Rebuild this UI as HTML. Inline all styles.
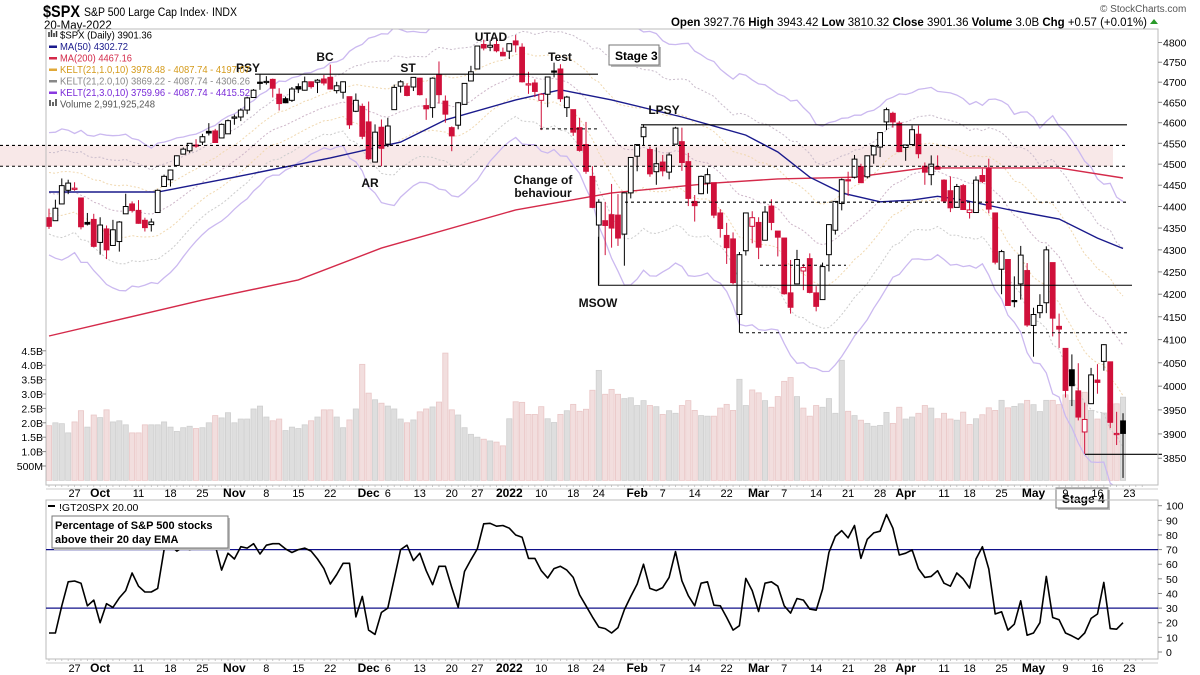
<!DOCTYPE html>
<html><head><meta charset="utf-8"><title>$SPX S&amp;P 500 Large Cap Index</title>
<style>
html,body{margin:0;padding:0;background:#fff;}
svg{display:block;font-family:"Liberation Sans",sans-serif;}
</style></head>
<body>
<svg id="chart" xmlns="http://www.w3.org/2000/svg" width="1200" height="675" viewBox="0 0 1200 675">
  <rect x="0" y="0" width="1200" height="675" fill="#fff"/>
  <g>
    <text x="43" y="17" font-size="17" font-weight="bold" fill="#000" textLength="37" lengthAdjust="spacingAndGlyphs">$SPX</text>
    <text x="84" y="16" font-size="11.5" fill="#000" textLength="153" lengthAdjust="spacingAndGlyphs">S&amp;P 500 Large Cap Index· INDX</text>
    <text x="44" y="29" font-size="11.5" fill="#000">20-May-2022</text>
    <text x="1100" y="12" font-size="10" fill="#555">© StockCharts.com</text>
    <text x="671" y="26" font-size="11.5" fill="#000" textLength="476" lengthAdjust="spacingAndGlyphs"><tspan font-weight="bold">Open</tspan> 3927.76  <tspan font-weight="bold">High</tspan> 3943.42  <tspan font-weight="bold">Low</tspan> 3810.32  <tspan font-weight="bold">Close</tspan> 3901.36  <tspan font-weight="bold">Volume</tspan> 3.0B  <tspan font-weight="bold">Chg</tspan> +0.57 (+0.01%)</text>
    <path d="M1150 24 L1154 19 L1158 24 Z" fill="#2a9a2a"/>
  </g>
  <defs>
    <clipPath id="mainClip"><rect x="46" y="29" width="1112" height="456"/></clipPath>
    <clipPath id="lowClip"><rect x="46" y="500" width="1112" height="159"/></clipPath>
  </defs>
  <g id="main" clip-path="url(#mainClip)"></g>
  <g id="over"></g>
  <g id="low"></g>
  <g id="axes"></g>
</svg>
<script>
// ---------- data ----------
const dates = ["Sep21","Sep22","Sep23","Sep24","Sep27","Sep28","Sep29","Sep30","Oct1","Oct4","Oct5","Oct6","Oct7","Oct8","Oct11","Oct12","Oct13","Oct14","Oct15","Oct18","Oct19","Oct20","Oct21","Oct22","Oct25","Oct26","Oct27","Oct28","Oct29","Nov1","Nov2","Nov3","Nov4","Nov5","Nov8","Nov9","Nov10","Nov11","Nov12","Nov15","Nov16","Nov17","Nov18","Nov19","Nov22","Nov23","Nov24","Nov26","Nov29","Nov30","Dec1","Dec2","Dec3","Dec6","Dec7","Dec8","Dec9","Dec10","Dec13","Dec14","Dec15","Dec16","Dec17","Dec20","Dec21","Dec22","Dec23","Dec27","Dec28","Dec29","Dec30","Dec31","Jan3","Jan4","Jan5","Jan6","Jan7","Jan10","Jan11","Jan12","Jan13","Jan14","Jan18","Jan19","Jan20","Jan21","Jan24","Jan25","Jan26","Jan27","Jan28","Jan31","Feb1","Feb2","Feb3","Feb4","Feb7","Feb8","Feb9","Feb10","Feb11","Feb14","Feb15","Feb16","Feb17","Feb18","Feb22","Feb23","Feb24","Feb25","Feb28","Mar1","Mar2","Mar3","Mar4","Mar7","Mar8","Mar9","Mar10","Mar11","Mar14","Mar15","Mar16","Mar17","Mar18","Mar21","Mar22","Mar23","Mar24","Mar25","Mar28","Mar29","Mar30","Mar31","Apr1","Apr4","Apr5","Apr6","Apr7","Apr8","Apr11","Apr12","Apr13","Apr14","Apr18","Apr19","Apr20","Apr21","Apr22","Apr25","Apr26","Apr27","Apr28","Apr29","May2","May3","May4","May5","May6","May9","May10","May11","May12","May13","May16","May17","May18","May19","May20"];
const opens = [4374,4367,4406,4438,4442,4420,4363,4370,4317,4348,4310,4319,4383,4406,4391,4368,4358,4386,4447,4463,4497,4524,4532,4546,4553,4579,4580,4563,4573,4611,4614,4631,4662,4700,4702,4707,4670,4659,4655,4689,4680,4701,4700,4708,4712,4679,4675,4664,4628,4640,4602,4505,4589,4548,4632,4690,4690,4688,4710,4642,4637,4719,4653,4588,4594,4645,4703,4733,4795,4788,4795,4775,4778,4804,4788,4693,4698,4655,4670,4728,4733,4637,4632,4588,4547,4471,4357,4367,4381,4380,4336,4432,4519,4566,4535,4482,4505,4481,4548,4554,4506,4412,4430,4455,4456,4385,4333,4325,4155,4298,4354,4363,4322,4401,4343,4327,4203,4223,4252,4280,4203,4188,4289,4345,4407,4463,4469,4494,4470,4522,4541,4602,4623,4599,4540,4547,4572,4495,4475,4494,4462,4437,4398,4449,4386,4386,4473,4490,4385,4256,4278,4186,4223,4253,4131,4159,4181,4271,4129,4081,4035,3990,3904,3963,4013,4053,4052,3900,3927];
const highs = [4395,4416,4466,4463,4457,4420,4385,4383,4375,4356,4369,4366,4430,4412,4415,4374,4372,4440,4475,4487,4521,4540,4550,4560,4573,4599,4585,4598,4608,4620,4635,4664,4683,4719,4715,4709,4685,4664,4688,4697,4714,4702,4708,4718,4744,4701,4702,4664,4672,4647,4652,4596,4608,4612,4694,4705,4697,4713,4711,4660,4712,4752,4667,4591,4651,4698,4741,4791,4807,4804,4808,4787,4796,4819,4798,4726,4707,4673,4714,4749,4745,4666,4632,4612,4602,4495,4417,4411,4453,4429,4432,4517,4547,4596,4542,4540,4522,4528,4590,4588,4527,4427,4473,4490,4456,4394,4362,4340,4295,4385,4389,4375,4401,4417,4343,4327,4277,4300,4268,4292,4218,4271,4358,4412,4466,4482,4522,4501,4521,4546,4576,4637,4627,4604,4547,4593,4593,4504,4521,4521,4464,4471,4453,4453,4410,4471,4489,4513,4386,4300,4278,4240,4309,4270,4170,4200,4308,4271,4157,4081,4068,4049,3965,4039,4047,4090,4052,3946,3943];
const lows = [4348,4367,4406,4429,4437,4347,4356,4306,4289,4279,4310,4296,4383,4386,4360,4342,4342,4386,4447,4447,4497,4524,4527,4539,4546,4569,4551,4563,4573,4595,4604,4621,4662,4681,4694,4662,4630,4648,4651,4673,4679,4684,4673,4692,4682,4672,4659,4585,4626,4560,4510,4505,4495,4541,4632,4674,4665,4678,4667,4607,4612,4647,4600,4531,4584,4645,4703,4733,4780,4778,4775,4765,4758,4775,4699,4671,4663,4582,4638,4712,4651,4614,4568,4530,4477,4396,4223,4288,4305,4309,4264,4419,4483,4545,4470,4451,4471,4464,4547,4484,4401,4365,4429,4430,4373,4328,4268,4222,4115,4287,4315,4279,4322,4345,4285,4199,4157,4223,4209,4202,4162,4188,4251,4335,4391,4425,4466,4456,4466,4501,4517,4582,4588,4530,4508,4547,4514,4451,4450,4487,4408,4387,4398,4392,4372,4386,4455,4384,4267,4200,4175,4171,4188,4128,4063,4147,4158,4107,4082,3976,3958,3928,3859,3963,3984,4033,3912,3877,3810];
const closes = [4354,4396,4449,4455,4443,4353,4359,4308,4357,4300,4346,4364,4400,4391,4361,4351,4364,4438,4471,4486,4520,4536,4550,4545,4566,4575,4552,4596,4605,4614,4631,4661,4680,4698,4702,4685,4647,4649,4683,4683,4701,4689,4705,4698,4683,4691,4701,4595,4655,4567,4513,4577,4538,4592,4687,4701,4667,4712,4669,4634,4710,4669,4621,4568,4649,4697,4726,4791,4786,4793,4779,4766,4797,4794,4701,4696,4677,4670,4713,4726,4659,4663,4577,4533,4483,4398,4410,4356,4350,4327,4432,4516,4547,4589,4477,4501,4484,4522,4587,4504,4419,4402,4471,4475,4380,4349,4305,4226,4289,4385,4374,4306,4387,4363,4329,4201,4171,4278,4260,4204,4173,4262,4358,4412,4463,4461,4512,4456,4520,4543,4576,4632,4602,4530,4546,4583,4525,4481,4500,4488,4413,4397,4447,4393,4392,4462,4459,4394,4272,4296,4175,4184,4288,4132,4155,4175,4300,4147,4123,3991,4001,3935,3930,4024,4008,4089,3924,3901,3901];
const volumesB = [1.9,2.0,1.97,1.65,2.03,2.42,1.85,2.27,2.18,2.45,2.03,2.07,1.93,1.65,1.65,1.93,1.93,1.93,2.03,1.85,1.7,1.83,1.88,1.8,1.83,2.0,2.25,2.17,2.35,2.0,2.13,2.13,2.48,2.58,2.2,2.07,2.13,1.73,1.85,1.8,1.93,2.07,2.2,2.45,2.45,2.2,1.83,2.1,2.48,4.03,3.03,2.8,2.68,2.58,2.48,2.13,2.0,2.1,2.38,2.48,2.55,2.72,4.42,2.45,2.27,1.83,1.6,1.5,1.43,1.37,1.33,
1.2,2.14,2.73,2.71,2.29,2.29,2.56,2.14,2.01,2.29,2.42,2.64,2.40,2.47,3.13,3.82,2.99,3.16,2.99,2.84,2.87,2.6,2.77,2.6,2.56,2.29,2.42,2.33,2.6,2.77,2.43,2.25,2.23,2.23,2.51,2.64,2.43,3.51,2.6,3.14,3.04,2.77,2.54,2.91,3.44,3.57,2.91,2.51,2.23,2.6,2.54,2.84,2.33,4.17,2.4,2.25,2.09,1.98,1.88,1.91,2.36,1.98,2.54,2.13,2.2,2.33,2.6,2.51,2.14,2.33,2.13,2.09,
2.37,1.94,2.14,2.28,2.52,2.43,2.78,2.52,2.57,2.66,2.78,2.63,2.39,2.78,2.78,2.63,2.97,2.78,3.06,3.06,2.43,2.13,2.34,2.66,2.66,2.89];
const pctAbove20 = [13,13,31.6,48,48.5,47,31.6,35.5,20,33,30.5,37,42,54,45,41,41,43.5,70,73,69,72,70,71,72,73,73,56,67.5,63.6,72,71,74,67,73,74,74,70.5,68,70,71,69,63.6,57,46.5,53,60.6,60.6,24,38,15,12,27,30,50,70,73,62.5,67.5,55.6,46,58.6,58.6,44,30.5,55,63,70.5,87.6,88,86,86.5,84.6,80,78.5,64,64,55.6,50.6,57,58.6,56,51,39,31.6,24,17,16,
13,16.7,29,38,46.5,60,43.5,42,44,51,68.6,48.7,38.5,31.6,47,48,32,31.6,23.6,15,18,50.3,42,27.7,47,48,45,31.6,26.6,36.6,35.5,29.3,28.6,43,68,79,83,78,86.5,64,77,81.4,82.6,94,84.6,66.3,67.5,69.8,57,51,51.7,55.6,47,45,54,50,43.7,63.6,72,56.7,26,27.5,15,19,35,11.5,13,20,51.7,23.6,22,13,11,8.7,13,23,26,47.6,16,15.6,20];
const ma50Bars = [0,17,29,44,55,62,73,80,88,99,109,114,119,124,130,135,139,143,150,158,164,168];
const ma50Vals = [4434,4434,4469,4515,4553,4607,4656,4681,4656,4614,4570,4529,4469,4432,4411,4415,4424,4415,4393,4371,4327,4303];
const ma200Bars = [0,24,39,52,73,88,104,114,126,137,148,158,168];
const ma200Vals = [4108,4187,4232,4304,4392,4432,4455,4465,4469,4491,4491,4491,4467];
const kelt0 = [4440, 48]; // starting EMA, ATR read from left edge
const priceTicks = [4800,4750,4700,4650,4600,4550,4500,4450,4400,4350,4300,4250,4200,4150,4100,4050,4000,3950,3900,3850];
const volTicks = [4.5,4.0,3.5,3.0,2.5,2.0,1.5,1.0,0.5];
const volTickLabels = ["4.5B","4.0B","3.5B","3.0B","2.5B","2.0B","1.5B","1.0B","500M"];
const indTicks = [100,90,80,70,60,50,40,30,20,10,0];
const dateLabelText = ["27","Oct","11","18","25","Nov","8","15","22","Dec","6","13","20","27","2022","10","18","24","Feb","7","14","22","Mar","7","14","21","28","Apr","11","18","25","May","9","16","23"];
const dateLabelBar = [4,8,14,19,24,29,34,39,44,50,53,58,63,67,72,77,82,86,92,96,101,106,111,115,120,125,130,134,140,144,149,154,159,164,169];
const dateLabelBold = ["Oct","Nov","Dec","2022","Feb","Mar","Apr","May"];
const hLevels = [4720, 4545, 4495, 4410, 4595, 4220, 4265, 4115, 3858];

// ---------- scales ----------
const NS = "http://www.w3.org/2000/svg";
const X0 = 49, DX = 6.393;
function xb(i){ return X0 + i*DX; }
function py(p){ return 42.5 + 1885*Math.log(4800/p); }
function vy(v){ return 480.4 - v*28.8; }
function iy(v){ return 652 - v*1.463; }
function mk(tag, attrs, parent){
  const e = document.createElementNS(NS, tag);
  for (const k in attrs) e.setAttribute(k, attrs[k]);
  parent.appendChild(e);
  return e;
}
const svg = document.getElementById('chart');
const main = document.getElementById('main');
const over = document.getElementById('over');
const low = document.getElementById('low');
const axes = document.getElementById('axes');
const RED = "#d0103a";

let band = mk('rect', {x:0, y:py(hLevels[1]), width:1113, height:py(hLevels[2])-py(hLevels[1]), fill:"#f8e8e8"}, svg);


svg.insertBefore(band, main);

for (let i=0;i<volumesB.length;i++){
  const up = i===0 ? false : closes[i] >= closes[i-1];
  const r = mk('rect', {x:xb(i)-2.6, y:vy(volumesB[i]), width:5.2, height:480.4-vy(volumesB[i]), fill: up ? "#dedede" : "#f2dede", stroke: up ? "#cfcfcf" : "#e9c6c6", 'stroke-width':0.8}, main);
  
  
}

let ema = kelt0[0], atr = kelt0[1];
const kc = [];
for (let i=0;i<closes.length;i++){
  const pc = i>0 ? closes[i-1] : closes[i];
  const tr = Math.max(highs[i]-lows[i], Math.abs(highs[i]-pc), Math.abs(lows[i]-pc));
  ema = ema + (2/22)*(closes[i]-ema);
  atr = (atr*9 + tr)/10;
  kc.push([ema, atr]);
}
function kline(mult, color, dash, w, name){
  let d = "";
  kc.forEach((v,i)=>{ d += (i?"L":"M") + xb(i).toFixed(1) + " " + py(v[0]+mult*v[1]).toFixed(1) + " "; });
  const p = mk('path', {d:d, fill:"none", stroke:color, 'stroke-width':w}, main);
  if (dash) p.setAttribute('stroke-dasharray', dash);
  
  
}
kline(3, "#cbb9f0", null, 1.3, 'keltner-3-upper');
kline(-3, "#cbb9f0", null, 1.3, 'keltner-3-lower');
kline(2, "#c9bccb", "2 2", 1, 'keltner-2-upper');
kline(-2, "#cccccc", "2 2", 1, 'keltner-2-lower');
kline(1, "#f0d8b0", "2 2", 1, 'keltner-1-upper');
kline(-1, "#f0d8b0", "2 2", 1, 'keltner-1-lower');
kline(0, "#cdb5c8", "2 2", 1, 'keltner-middle');

function maLine(bars, vals, color, name){
  let d = "";
  bars.forEach((b,k)=>{ d += (k?"L":"M") + xb(b).toFixed(1) + " " + py(vals[k]).toFixed(1) + " "; });
  const p = mk('path', {d:d, fill:"none", stroke:color, 'stroke-width':1.4}, main);
  
  
}
maLine(ma200Bars, ma200Vals, "#d42a4a", 'ma200-line');
maLine(ma50Bars, ma50Vals, "#1a1a8c", 'ma50-line');

function hline(x1, x2, p, dashed, name){
  const l = mk('line', {x1:x1, x2:x2, y1:py(p), y2:py(p), stroke:"#000", 'stroke-width':1.1}, over);
  if (dashed) l.setAttribute('stroke-dasharray', '3 3');
  
  
}
hline(255, 598, hLevels[0], false, 'psy-resistance-line');
hline(540, 598, 4585, true, 'test-level-line');
hline(0, 1127, hLevels[1], true, 'zone-top-line');
hline(0, 1127, hLevels[2], true, 'zone-bottom-line');
hline(625, 1127, hLevels[3], true, 'support-4410-line');
hline(641, 1127, hLevels[4], false, 'lpsy-line');
hline(598, 1132, hLevels[5], false, 'msow-line');
hline(760, 846, hLevels[6], true, 'support-4265-line');
hline(740, 1127, hLevels[7], true, 'support-4115-line');
hline(1085, 1162, hLevels[8], false, 'stage4-low-line');
let vl = mk('line', {x1:598.5, x2:598.5, y1:py(4330), y2:py(hLevels[5]), stroke:"#000", 'stroke-width':1.1}, over);



for (let i=0;i<closes.length;i++){
  const x = xb(i);
  const isRed = i===0 ? true : closes[i] < closes[i-1];
  const col = isRed ? RED : "#000";
  const w = mk('line', {x1:x, x2:x, y1:py(highs[i]), y2:py(lows[i]), stroke:col, 'stroke-width':1}, main);
  
  
  const top = py(Math.max(opens[i], closes[i])), bot = py(Math.min(opens[i], closes[i]));
  const filled = closes[i] < opens[i];
  const b = mk('rect', {x:x-2.4, y:top, width:4.8, height:Math.max(1.2, bot-top), fill: filled ? col : "#fff", stroke:col, 'stroke-width':1}, main);
  
  
}

const notes = [["PSY",248,72],["BC",325,61],["ST",408,72],["UTAD",491,41],["Test",560,61],["AR",370,187],["Change of",543,184],["behaviour",543,197],["LPSY",664,114],["MSOW",598,307]];
notes.forEach(n=>{
  const t = mk('text', {x:n[1], y:n[2], 'font-size':12, 'font-weight':'bold', 'text-anchor':'middle', fill:"#111"}, over);
  t.textContent = n[0];
  
  
});
function box(x, y, w, h, txt, name){
  mk('rect', {x:x+2, y:y+2, width:w, height:h, fill:"#bbb"}, over);
  const r = mk('rect', {x:x, y:y, width:w, height:h, fill:"#fff", stroke:"#777", 'stroke-width':1}, over);
  
  
  const t = mk('text', {x:x+6, y:y+h-5, 'font-size':12, 'font-weight':'bold', fill:"#000"}, over);
  t.textContent = txt;
  
  
}
box(609, 45, 50, 20, "Stage 3", 'stage3-box');

const legend = [["$SPX (Daily) 3901.36","#000",38.5,null,92],["MA(50) 4302.72","#1a1a8c",50,"#1a1a8c",68],["MA(200) 4467.16","#d42a4a",61.5,"#d42a4a",72],["KELT(21,1.0,10) 3978.48 - 4087.74 - 4197.07","#d49a1a",73,"#e0a838",190],["KELT(21,2.0,10) 3869.22 - 4087.74 - 4306.26","#888",84.5,"#888",190],["KELT(21,3.0,10) 3759.96 - 4087.74 - 4415.52","#7a2ad8",96,"#8a3ae0",190],["Volume 2,991,925,248","#555",107.5,null,95]];
legend.forEach((l,k)=>{
  if (l[3]){
    const s = mk('rect', {x:49, y:l[2]-4.5, width:8, height:2.5, fill:l[3]}, over);
    
    
  }
  const t = mk('text', {x:60, y:l[2], 'font-size':10.5, fill:l[1], textLength:l[4], lengthAdjust:"spacingAndGlyphs"}, over);
  t.textContent = l[0];
  
  
});
mk('path', {d:"M49 37 v-5 M51.5 37 v-7 M54 37 v-4 M56.5 37 v-6", stroke:"#333", 'stroke-width':1.5}, over);
mk('rect', {x:49, y:100, width:2, height:6, fill:"#666"}, over);
mk('rect', {x:52, y:102, width:2, height:4, fill:"#666"}, over);
mk('rect', {x:55, y:99, width:2, height:7, fill:"#666"}, over);

let fr = mk('rect', {x:46, y:29, width:1112, height:456, fill:"none", stroke:"#bbb", 'stroke-width':1}, axes);


priceTicks.forEach(p=>{
  mk('line', {x1:1158, x2:1162, y1:py(p), y2:py(p), stroke:"#888"}, axes);
  const t = mk('text', {x:1163, y:py(p)+4, 'font-size':10.5, fill:"#000"}, axes);
  t.textContent = p;
  
  
});
volTicks.forEach((v,k)=>{
  mk('line', {x1:42, x2:46, y1:vy(v), y2:vy(v), stroke:"#888"}, axes);
  const t = mk('text', {x:43, y:vy(v)+4, 'font-size':10.5, 'text-anchor':'end', fill:"#000"}, axes);
  t.textContent = volTickLabels[k];
  
  
});
function dateAxis(yLine, yText, name){
  mk('line', {x1:46, x2:1158, y1:yLine+4, y2:yLine+4, stroke:"#ccc"}, axes);
  for (let i=0;i<172;i++) mk('line', {x1:xb(i), x2:xb(i), y1:yLine, y2:yLine+2, stroke:"#bbb", 'stroke-width':0.8}, axes);
  dateLabelText.forEach((s,k)=>{
    const b = dateLabelBold.indexOf(s) >= 0;
    const t = mk('text', {x:xb(dateLabelBar[k]), y:yText, 'font-size': b ? 12 : 11, 'font-weight': b ? 'bold' : 'normal', 'text-anchor':'middle', fill:"#000"}, axes);
    t.textContent = s;
    
    
  });
}
dateAxis(485, 497, 'price-date-label');
box(1056, 488, 52, 20, "Stage 4", 'stage4-box');

let lf = mk('rect', {x:46, y:500, width:1112, height:159, fill:"none", stroke:"#bbb", 'stroke-width':1}, low);


[70,30].forEach(v=>{
  const l = mk('line', {x1:46, x2:1158, y1:iy(v), y2:iy(v), stroke:"#10108a", 'stroke-width':1.2}, low);
  
  
});
let d2 = "";
pctAbove20.forEach((v,i)=>{ d2 += (i?"L":"M") + xb(i).toFixed(1) + " " + iy(v).toFixed(1) + " "; });
let il = mk('path', {d:d2, fill:"none", stroke:"#000", 'stroke-width':1.6, 'stroke-linejoin':'round'}, low);


indTicks.forEach(v=>{
  mk('line', {x1:1158, x2:1162, y1:iy(v), y2:iy(v), stroke:"#888"}, low);
  const t = mk('text', {x:1166, y:iy(v)+4, 'font-size':10.5, fill:"#000"}, low);
  t.textContent = v;
  
  
});
mk('rect', {x:48, y:505, width:7, height:2, fill:"#000"}, low);
let lt = mk('text', {x:59, y:511, 'font-size':10.5, fill:"#000"}, low);
lt.textContent = "!GT20SPX 20.00";


mk('rect', {x:54, y:518, width:176, height:32, fill:"#bbb"}, low);
let ib = mk('rect', {x:52, y:516, width:176, height:32, fill:"#fff", stroke:"#777"}, low);


let it1 = mk('text', {x:55, y:529, 'font-size':11, 'font-weight':'bold', fill:"#000"}, low);
it1.textContent = "Percentage of S&P 500 stocks";


let it2 = mk('text', {x:55, y:543, 'font-size':11, 'font-weight':'bold', fill:"#000"}, low);
it2.textContent = "above their 20 day EMA";


dateAxis(659, 672, 'indicator-date-label');
</script>
</body></html>
